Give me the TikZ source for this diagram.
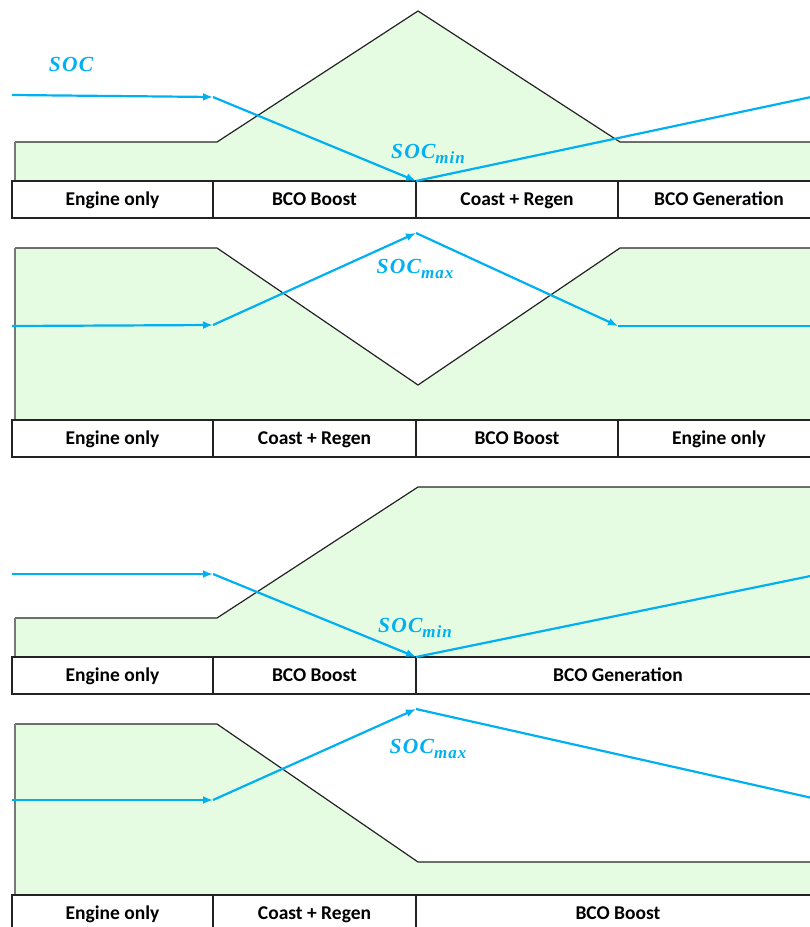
\documentclass[tikz,border=0pt]{standalone}
\usepackage{fontspec}
\setmainfont{Carlito}
\newfontfamily\socfont[LetterSpace=6]{Liberation Serif}
\usetikzlibrary{arrows.meta}
\definecolor{socblue}{RGB}{0,176,240}
\definecolor{regfill}{RGB}{229,252,227}
\definecolor{edgegray}{RGB}{120,120,120}
\definecolor{outl}{RGB}{35,35,35}
\newcommand\socsym[1]{SOC\raisebox{-5pt}{\fontsize{17}{17}\selectfont #1}}
\begin{document}
\begin{tikzpicture}[x=1pt,y=-1pt,
  cell/.style={draw=outl, line width=1.3pt, minimum height=37pt, inner sep=0pt,
    text height=14pt, text depth=2pt,
    font=\fontsize{19.5}{19.5}\selectfont\bfseries},
  region/.style={fill=regfill},
  topline/.style={draw=outl, line width=1.2pt, line join=miter},
  sideline/.style={draw=edgegray, line width=1.2pt},
  socline/.style={draw=socblue, line width=2.2pt},
  socarrow/.style={socline, -{Latex[length=10pt,width=8pt]}},
  soclab/.style={text=socblue, inner sep=0pt,
    font=\socfont\fontsize{21.5}{21.5}\selectfont\bfseries\itshape}]
\useasboundingbox (0,0) rectangle (810,927);
\clip (0,0) rectangle (810,927);

% ---------- panel 1: boost, coast, generation ----------
\fill[region] (15,181) -- (15,142) -- (217,142) -- (418,11) -- (620,142) -- (830,142) -- (830,181) -- cycle;
\draw[topline] (15,142) -- (217,142) -- (418,11) -- (620,142) -- (830,142);
\draw[sideline] (15,142) -- (15,181);
\node[cell, minimum width=201pt] (a1) at (112.5,199.5) {Engine only};
\node[cell, minimum width=203pt] (a2) at (314.5,199.5) {BCO Boost};
\node[cell, minimum width=202pt] (a3) at (517,199.5) {Coast + Regen};
\node[cell, minimum width=202pt] (a4) at (719,199.5) {BCO Generation};
\coordinate (s1a) at (12,95);
\coordinate (s1b) at (213,97);
\coordinate (s1c) at (416,181);
\coordinate (s1d) at (830,93);
\draw[socarrow] (s1a) -- (s1b);
\draw[socarrow] (s1b) -- (s1c);
\draw[socline] (s1c) -- (s1d);
\node[soclab] (soc) at (71,64) {SOC};
\node[soclab] (min1) at (428,154) {\socsym{min}};

% ---------- panel 2: coast, boost ----------
\fill[region] (15,420) -- (15,248) -- (217,248) -- (418,385) -- (620,248) -- (830,248) -- (830,420) -- cycle;
\draw[topline] (15,248) -- (217,248) -- (418,385) -- (620,248) -- (830,248);
\draw[sideline] (15,248) -- (15,420);
\node[cell, minimum width=201pt] (b1) at (112.5,438.5) {Engine only};
\node[cell, minimum width=203pt] (b2) at (314.5,438.5) {Coast + Regen};
\node[cell, minimum width=202pt] (b3) at (517,438.5) {BCO Boost};
\node[cell, minimum width=202pt] (b4) at (719,438.5) {Engine only};
\coordinate (s2a) at (12,326);
\coordinate (s2b) at (213,325);
\coordinate (s2c) at (416,233);
\coordinate (s2d) at (618,326);
\coordinate (s2e) at (830,326);
\draw[socarrow] (s2a) -- (s2b);
\draw[socarrow] (s2b) -- (s2c);
\draw[socarrow] (s2c) -- (s2d);
\draw[socline] (s2d) -- (s2e);
\node[soclab] (max2) at (415,269) {\socsym{max}};

% ---------- panel 3: boost, generation ----------
\fill[region] (15,657) -- (15,618) -- (217,618) -- (418,487) -- (830,487) -- (830,657) -- cycle;
\draw[topline] (15,618) -- (217,618) -- (418,487) -- (830,487);
\draw[sideline] (15,618) -- (15,657);
\node[cell, minimum width=201pt] (c1) at (112.5,675.5) {Engine only};
\node[cell, minimum width=203pt] (c2) at (314.5,675.5) {BCO Boost};
\node[cell, minimum width=404pt] (c3) at (618,675.5) {BCO Generation};
\coordinate (s3a) at (12,574);
\coordinate (s3b) at (213,574);
\coordinate (s3c) at (416,657);
\coordinate (s3d) at (830,572);
\draw[socarrow] (s3a) -- (s3b);
\draw[socarrow] (s3b) -- (s3c);
\draw[socline] (s3c) -- (s3d);
\node[soclab] (min3) at (415,628) {\socsym{min}};

% ---------- panel 4: coast, boost ----------
\fill[region] (15,895) -- (15,724) -- (217,724) -- (418,862) -- (830,862) -- (830,895) -- cycle;
\draw[topline] (15,724) -- (217,724) -- (418,862) -- (830,862);
\draw[sideline] (15,724) -- (15,895);
\node[cell, minimum width=201pt] (d1) at (112.5,913.5) {Engine only};
\node[cell, minimum width=203pt] (d2) at (314.5,913.5) {Coast + Regen};
\node[cell, minimum width=404pt] (d3) at (618,913.5) {BCO Boost};
\coordinate (s4a) at (12,800);
\coordinate (s4b) at (213,800);
\coordinate (s4c) at (416,709);
\coordinate (s4d) at (830,802);
\draw[socarrow] (s4a) -- (s4b);
\draw[socarrow] (s4b) -- (s4c);
\draw[socline] (s4c) -- (s4d);
\node[soclab] (max4) at (428,749) {\socsym{max}};
\end{tikzpicture}
\end{document}
